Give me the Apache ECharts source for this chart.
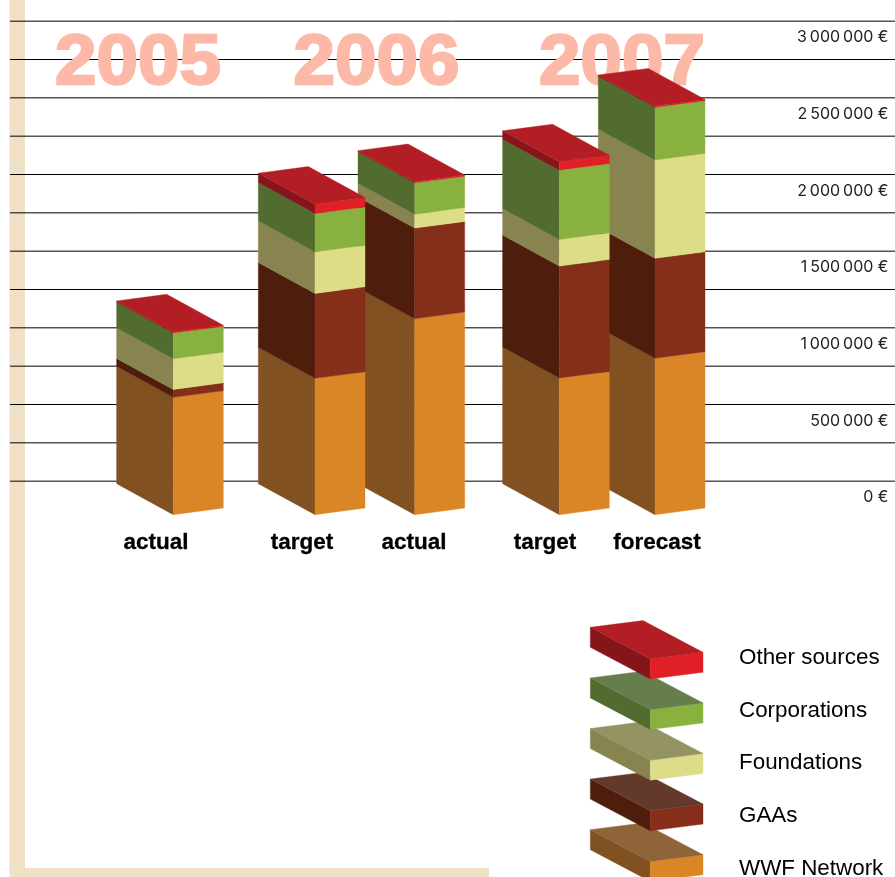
<!DOCTYPE html>
<html>
<head>
<meta charset="utf-8">
<style>html,body{margin:0;padding:0;background:#fff}#c{width:895px;height:877px}</style>
<script src="https://cdn.jsdelivr.net/npm/echarts@6/dist/echarts.min.js"></script>
</head>
<body>
<div id="c"></div>
<script>
// ---- data ----
const categories = ['2005 actual', '2006 target', '2006 actual', '2007 target', '2007 forecast'];
const wwfNetwork   = [765000, 889000, 1278000, 891000, 1020000];
const gaas         = [52000, 554000, 591000, 730000, 652000];
const foundations  = [200000, 271000, 91000, 174000, 641000];
const corporations = [168000, 250000, 204000, 452000, 344000];
const otherSources = [7000, 61000, 8000, 54000, 8000];
const barLabels = ['actual', 'target', 'actual', 'target', 'forecast'];
const years = ['2005', '2006', '2007'];
const valueTicks = [0, 500000, 1000000, 1500000, 2000000, 2500000, 3000000];
const gridValues = [0, 250000, 500000, 750000, 1000000, 1250000, 1500000, 1750000, 2000000, 2250000, 2500000, 2750000, 3000000];

// ---- layout and styles ----
const barX = [163.3, 305, 404.7, 549.3, 645];
const labelX = [146, 292, 404, 535, 647];
const yearX = [128, 366.5, 612];
const yearLevel = 2720000;
const LEFT = [-56.7, -31], RIGHT = [50, -6.6], FLOOR_DROP = 33.5;
const layers = [
  {name: 'WWF Network',   values: wwfNetwork,   side: '#825122', front: '#DB8626', top: '#8F6439'},
  {name: 'GAAs',          values: gaas,         side: '#4E1D0B', front: '#852E1A', top: '#62392A'},
  {name: 'Foundations',   values: foundations,  side: '#88844F', front: '#DEDD87', top: '#939364'},
  {name: 'Corporations',  values: corporations, side: '#526B2E', front: '#88B140', top: '#667E4B'},
  {name: 'Other sources', values: otherSources, side: '#84161A', front: '#E01F26', top: '#B31E24'}
];
const FONT = '"Liberation Sans", Arial, sans-serif';

function poly(points, fill, z2) {
  return {type: 'polygon', silent: true, z2: z2,
    shape: {points: points},
    style: {fill: fill, stroke: fill, lineWidth: 0.4}};
}

function slab(cx, cyTop, cyBottom, left, right, c, withTop, z2) {
  const out = [];
  out.push(poly([[cx, cyTop], [cx + left[0], cyTop + left[1]], [cx + left[0], cyBottom + left[1]], [cx, cyBottom]], c.side, z2));
  out.push(poly([[cx, cyTop], [cx + right[0], cyTop + right[1]], [cx + right[0], cyBottom + right[1]], [cx, cyBottom]], c.front, z2));
  if (withTop) {
    out.push(poly([[cx, cyTop], [cx + left[0], cyTop + left[1]],
      [cx + left[0] + right[0], cyTop + left[1] + right[1]], [cx + right[0], cyTop + right[1]]], c.top, z2));
  }
  return out;
}

// stacked layers as custom series
const running = categories.map(() => 0);
const stackSeries = layers.map((layer, li) => {
  const rows = layer.values.map((v, i) => {
    const low = running[i];
    running[i] += v;
    return [barX[i], low, running[i], i];
  });
  return {
    type: 'custom', name: layer.name, z: 5, silent: true,
    encode: {x: 0, y: [1, 2]},
    data: rows,
    renderItem: function (params, api) {
      const x = api.value(0), i = api.value(3);
      const a = api.coord([x, api.value(1)]);
      const b = api.coord([x, api.value(2)]);
      const z2 = (categories.length - i) * 10 + li;
      return {type: 'group', children:
        slab(a[0], b[1] + FLOOR_DROP, a[1] + FLOOR_DROP, LEFT, RIGHT, layer, li === layers.length - 1, z2)};
    }
  };
});

const gridSeries = {
  type: 'custom', name: 'grid', z: 1, silent: true,
  encode: {y: 0},
  data: gridValues.map(v => [v]),
  renderItem: function (params, api) {
    const v = api.value(0);
    const p0 = api.coord([0, v]), p1 = api.coord([885, v]);
    return {type: 'line', silent: true,
      shape: {x1: p0[0], y1: p0[1], x2: p1[0], y2: p1[1]},
      style: {stroke: '#000', lineWidth: 1}};
  }
};

const yearSeries = {
  type: 'custom', name: 'years', z: 2, silent: true,
  encode: {x: 0, y: 1},
  data: years.map((y, i) => [yearX[i], yearLevel]),
  renderItem: function (params, api) {
    const p = api.coord([api.value(0), api.value(1)]);
    return {type: 'text', silent: true, x: p[0], y: p[1], scaleX: 1.05,
      style: {text: years[params.dataIndex], x: 0, y: 0, fill: '#FDB9A7',
        stroke: '#FDB9A7', lineWidth: 2.5, lineJoin: 'round',
        font: 'bold 71px ' + FONT, align: 'center', verticalAlign: 'middle'}};
  }
};

// legend keys
const LEG_LEFT = [-60, -31.7], LEG_RIGHT = [52.7, -6.7];
const legendKeyX = 650.3, legendKeyFirstY = 659, legendKeyStep = 50.6, legendKeyH = 20;
const legendTextX = 739, legendTextFirstY = 658, legendTextStep = 52.6;
const legendOrder = layers.slice().reverse();
const graphics = [
  {type: 'rect', z: -10, silent: true, shape: {x: 9.5, y: 0, width: 15.5, height: 877}, style: {fill: '#F0E1C6'}},
  {type: 'rect', z: -10, silent: true, shape: {x: 9.5, y: 868, width: 479.5, height: 9}, style: {fill: '#F0E1C6'}}
];
legendOrder.forEach((l, k) => {
  const cy = legendKeyFirstY + k * legendKeyStep;
  slab(legendKeyX, cy, cy + legendKeyH, LEG_LEFT, LEG_RIGHT, l, true, 100 - k).forEach(el => {
    el.z = 10 - k; graphics.push(el);
  });
  graphics.push({type: 'text', z: 20, silent: true,
    style: {text: l.name, x: legendTextX, y: legendTextFirstY + k * legendTextStep,
      fill: '#000', font: '22.4px ' + FONT, align: 'left', verticalAlign: 'middle'}});
});

const chart = echarts.init(document.getElementById('c'), null, {renderer: 'canvas'});
chart.setOption({
  animation: false,
  backgroundColor: '#fff',
  grid: {left: 10, right: 0, top: 21.17, height: 460, containLabel: false},
  xAxis: {
    type: 'value', min: 0, max: 885,
    axisLine: {show: false}, axisTick: {show: false}, splitLine: {show: false},
    axisLabel: {
      customValues: labelX, margin: 50,
      color: '#000', fontFamily: FONT, fontWeight: 'bold', fontSize: 22.5, verticalAlign: 'top',
      textBorderColor: '#000', textBorderWidth: 0.3,
      formatter: function (v) { return barLabels[labelX.indexOf(v)] || ''; }
    }
  },
  yAxis: {
    type: 'value', position: 'right', min: 0, max: 3000000, interval: 250000,
    axisLine: {show: false}, axisTick: {show: false}, splitLine: {show: false},
    axisLabel: {
      customValues: valueTicks, inside: true, margin: 6.5,
      color: '#222', fontFamily: 'Inter, "Liberation Sans"', fontSize: 16, align: 'right',
      verticalAlign: 'top', padding: [8.5, 0, 0, 0],
      formatter: function (v) {
        return String(v).replace(/\B(?=(\d{3})+$)/g, '\u2009') + ' €';
      }
    }
  },
  graphic: {elements: graphics},
  series: [gridSeries, yearSeries].concat(stackSeries)
});
</script>
</body>
</html>
